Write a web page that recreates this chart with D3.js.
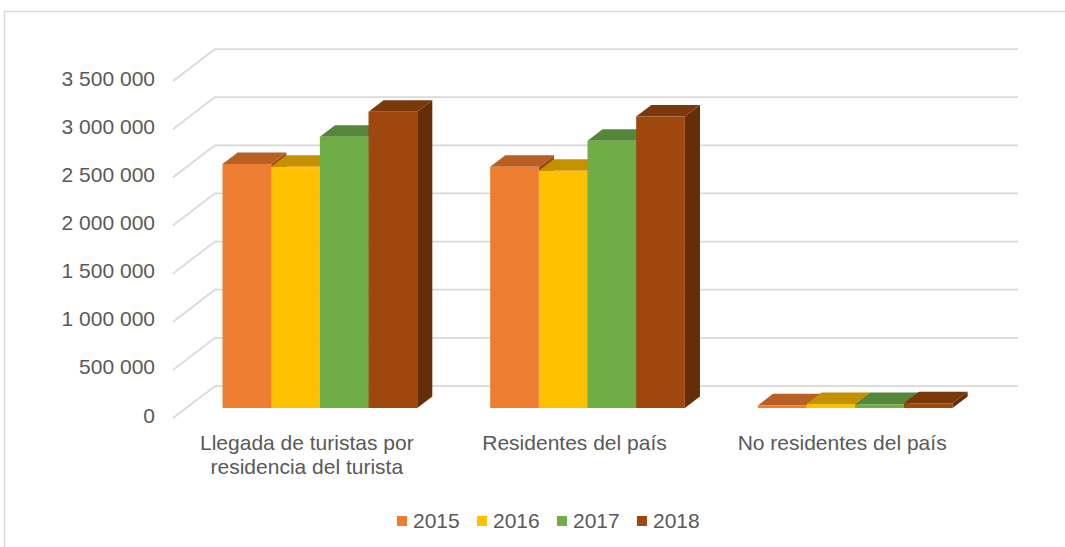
<!DOCTYPE html>
<html>
<head>
<meta charset="utf-8">
<script src="https://cdn.jsdelivr.net/npm/d3@7"></script>
<style>
  html, body { margin: 0; padding: 0; background: #ffffff; }
  svg { display: block; font-family: "Liberation Sans", Arial, sans-serif; }
</style>
</head>
<body>
<svg id="chart" width="1065" height="547"></svg>
<script>
// ---- data ----
const categories = [
  ["Llegada de turistas por", "residencia del turista"],
  ["Residentes del país"],
  ["No residentes del país"]
];
const years = ["2015", "2016", "2017", "2018"];
const values2015 = [2535000, 2507000, 28000];
const values2016 = [2507000, 2465000, 42000];
const values2017 = [2818000, 2777000, 41000];
const values2018 = [3078000, 3029000, 49000];
const tickValues = [0, 500000, 1000000, 1500000, 2000000, 2500000, 3000000, 3500000];

const series = [values2015, values2016, values2017, values2018];
const frontColors = ["#ED7D31", "#FFC000", "#70AD47", "#9E480E"];
const topColors   = ["#B85F22", "#C49200", "#568637", "#7A380B"];
const sideColors  = ["#9B4E1A", "#A67B00", "#47702C", "#662E08"];

// ---- layout ----
const svg = d3.select("#chart");
const X0 = 173;            // front-left floor corner x
const W = 803;             // plot width
const DX = 42, DY = -32;   // depth vector
const zFront = 0.31, zBack = 0.67;

const y = d3.scaleLinear().domain([0, 3500000]).range([418, 81]);
const keys = categories.map((c, i) => "c" + i);
const x0 = d3.scaleBand().domain(keys).range([0, W]).padding(0);
const gap = 36.5;
const x1 = d3.scaleBand().domain(years).range([gap, x0.bandwidth() - gap]).padding(0);

const P = (xp, v, z) => [X0 + xp + z * DX, y(v) + z * DY];
const poly = pts => "M" + pts.map(p => p.join(",")).join("L") + "Z";

// chart border
svg.append("rect").attr("x", 4.5).attr("y", 11.5).attr("width", 1080).attr("height", 560)
  .attr("fill", "none").attr("stroke", "#d9d9d9").attr("stroke-width", 1.5);

// gridlines: back wall + left wall
const grid = svg.append("g").attr("stroke", "#d9d9d9").attr("stroke-width", 1.75).attr("fill", "none");
tickValues.forEach(v => {
  const a = P(0, v, 0), b = P(0, v, 1), c = P(W, v, 1);
  grid.append("path").attr("d", "M" + a + "L" + b + "L" + c);
});

// tick labels
svg.append("g").selectAll("text").data(tickValues).join("text")
  .attr("x", 155).attr("y", d => y(d) - 3)
  .attr("text-anchor", "end").attr("dominant-baseline", "central")
  .attr("fill", "#595959").attr("font-size", 21)
  .text(d => d3.format(",")(d).replace(/,/g, " "));

// bars
const bars = svg.append("g");
keys.forEach((k, ci) => {
  years.forEach((yr, si) => {
    const v = series[si][ci];
    const xl = x0(k) + x1(yr), xr = xl + x1.bandwidth();
    const g = bars.append("g");
    // side face
    g.append("path").attr("d", poly([P(xr, 0, zFront), P(xr, 0, zBack), P(xr, v, zBack), P(xr, v, zFront)]))
      .attr("fill", sideColors[si]);
    // top face
    g.append("path").attr("d", poly([P(xl, v, zFront), P(xr, v, zFront), P(xr, v, zBack), P(xl, v, zBack)]))
      .attr("fill", topColors[si]);
    // front face
    g.append("path").attr("d", poly([P(xl, 0, zFront), P(xr, 0, zFront), P(xr, v, zFront), P(xl, v, zFront)]))
      .attr("fill", frontColors[si]);
  });
});

// category labels
const cat = svg.append("g").attr("fill", "#595959").attr("font-size", 21).attr("text-anchor", "middle");
keys.forEach((k, ci) => {
  const cx = X0 + x0(k) + x0.bandwidth() / 2;
  categories[ci].forEach((line, li) => {
    cat.append("text").attr("x", cx).attr("y", 450 + li * 24).text(line);
  });
});

// legend
const leg = svg.append("g");
years.forEach((yr, i) => {
  const lx = 397 + i * 80;
  leg.append("rect").attr("x", lx).attr("y", 516).attr("width", 10).attr("height", 10).attr("fill", frontColors[i]);
  leg.append("text").attr("x", lx + 16).attr("y", 528).attr("fill", "#595959").attr("font-size", 21).text(yr);
});
</script>
</body>
</html>
